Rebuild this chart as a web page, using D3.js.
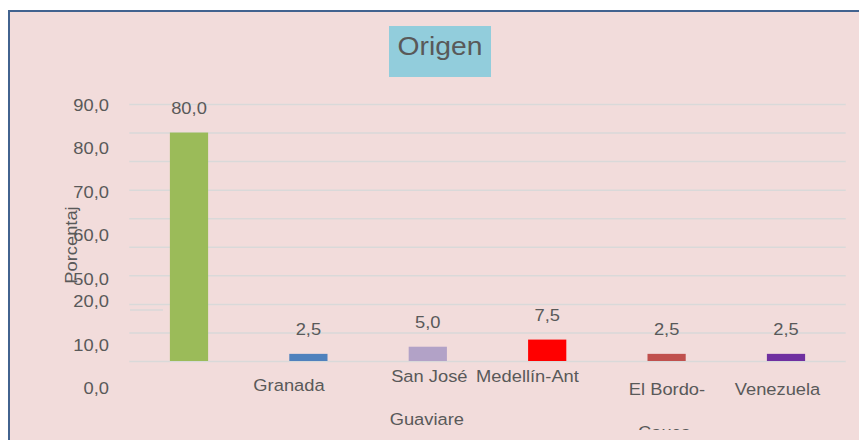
<!DOCTYPE html>
<meta charset="utf-8">
<style>
    body {
        margin: 0;
        background: #fff;
    }
    text {
        font-family: "Liberation Sans", Arial, sans-serif;
        fill: #595959;
    }
</style>

<body>
    <script src="https://cdn.jsdelivr.net/npm/d3@7"></script>
    <script>
        // data
        var categories = ["", "Granada", "San José Guaviare", "Medellín-Ant", "El Bordo-Cauca", "Venezuela"];
        var values = [80.0, 2.5, 5.0, 7.5, 2.5, 2.5];
        var barColors = ["#9bbb59", "#4f81bd", "#b2a2c7", "#ff0000", "#c0504d", "#7030a0"];
        var tickLabels = [0, 10, 20, 50, 60, 70, 80, 90];
        var gridTicks = [0, 10, 20, 30, 40, 50, 60, 70, 80, 90];
        var title = "Origen",
            yTitle = "Porcentaj";

        var width = 859,
            height = 440,
            sx = 1.11; // text comes out a bit wide in the original

        var fmt = function (d) { return d3.format(".1f")(d).replace(".", ","); };

        var svg = d3.select("body").append("svg")
            .attr("width", width)
            .attr("height", height);

        // chart area background + frame
        svg.append("rect")
            .attr("x", 9).attr("y", 11)
            .attr("width", width + 10).attr("height", height + 10)
            .attr("fill", "#f2dcdb")
            .attr("stroke", "#42638f")
            .attr("stroke-width", 2);

        var x = d3.scaleBand()
            .domain(categories)
            .range([129.3, 845.7])
            .paddingInner(0.68)
            .paddingOuter(0.34);

        var y = d3.scaleLinear()
            .domain([0, 90])
            .range([361, 104]);

        // the tick labels in the picture do not sit on their gridlines
        var labelY = d3.scaleLinear()
            .domain([0, 20, 50, 90])
            .range([393.5, 306.5, 284.5, 110]);

        // gridlines
        svg.append("g")
            .attr("transform", "translate(129.3,0)")
            .call(d3.axisLeft(y).tickValues(gridTicks).tickSize(-716.4).tickFormat(""))
            .call(function (g) {
                g.select(".domain").remove();
                g.selectAll("line").attr("stroke", "#d9d9d9").attr("stroke-width", 1.5);
            });

        svg.append("line")
            .attr("x1", 130).attr("x2", 163)
            .attr("y1", labelY(20) + 3.5).attr("y2", labelY(20) + 3.5)
            .attr("stroke", "#d9d9d9").attr("stroke-width", 1.5);

        // y tick labels
        svg.append("g")
            .attr("transform", "translate(109,0) scale(" + sx + ",1)")
            .call(d3.axisLeft(labelY).tickValues(tickLabels).tickSize(0).tickPadding(0).tickFormat(fmt))
            .call(function (g) {
                g.select(".domain").remove();
                g.selectAll("text")
                    .attr("dy", 0)
                    .style("font-size", "16.5px")
                    .style("font-family", "'Liberation Sans', Arial, sans-serif")
                    .attr("fill", "#595959");
            });

        // bars
        svg.selectAll(".bar")
            .data(values)
            .join("rect")
            .attr("class", "bar")
            .attr("x", function (d, i) { return x(categories[i]); })
            .attr("y", function (d) { return y(d); })
            .attr("width", x.bandwidth())
            .attr("height", function (d) { return y(0) - y(d); })
            .attr("fill", function (d, i) { return barColors[i]; });

        // value labels
        svg.selectAll(".val")
            .data(values)
            .join("text")
            .attr("class", "val")
            .attr("text-anchor", "middle")
            .style("font-size", "16.5px")
            .attr("transform", function (d, i) {
                return "translate(" + (x(categories[i]) + x.bandwidth() / 2) + "," + (y(d) - 19) + ") scale(" + sx + ",1)";
            })
            .text(fmt);

        // category labels (shifted/wrapped like the original)
        var labelShift = [0, -19.4, 1.5, -19.7, 0.4, -8.5],
            labelBase = [391, 391, 382, 382, 395, 395],
            lineGap = 43;

        var clip = svg.append("clipPath").attr("id", "clip")
            .append("rect").attr("x", 0).attr("y", 0).attr("width", width).attr("height", 430);

        var catLabels = [
            [""], ["Granada"], ["San José", "Guaviare"], ["Medellín-Ant"], ["El Bordo-", "Cauca"], ["Venezuela"]
        ];

        var cg = svg.append("g").attr("clip-path", "url(#clip)");
        categories.forEach(function (c, i) {
            catLabels[i].forEach(function (line, k) {
                cg.append("text")
                    .attr("text-anchor", "middle")
                    .style("font-size", "16.5px")
                    .attr("transform", "translate(" + (x(c) + x.bandwidth() / 2 + labelShift[i] - (k ? 2.5 : 0)) + "," +
                        (labelBase[i] + k * lineGap) + ") scale(" + sx + ",1)")
                    .text(line);
            });
        });

        // y axis title
        svg.append("text")
            .attr("text-anchor", "middle")
            .style("font-size", "16.5px")
            .attr("transform", "translate(77,245) rotate(-90) scale(" + sx + ",1)")
            .text(yTitle);

        // title box
        var tg = svg.append("g").attr("transform", "translate(440,0)");
        tg.append("rect")
            .attr("x", -51).attr("y", 26)
            .attr("width", 102).attr("height", 51)
            .attr("fill", "#92cddc");
        tg.append("text")
            .attr("text-anchor", "middle")
            .style("font-size", "25.5px")
            .attr("transform", "translate(0,55) scale(" + sx + ",1)")
            .text(title);
    </script>
</body>
